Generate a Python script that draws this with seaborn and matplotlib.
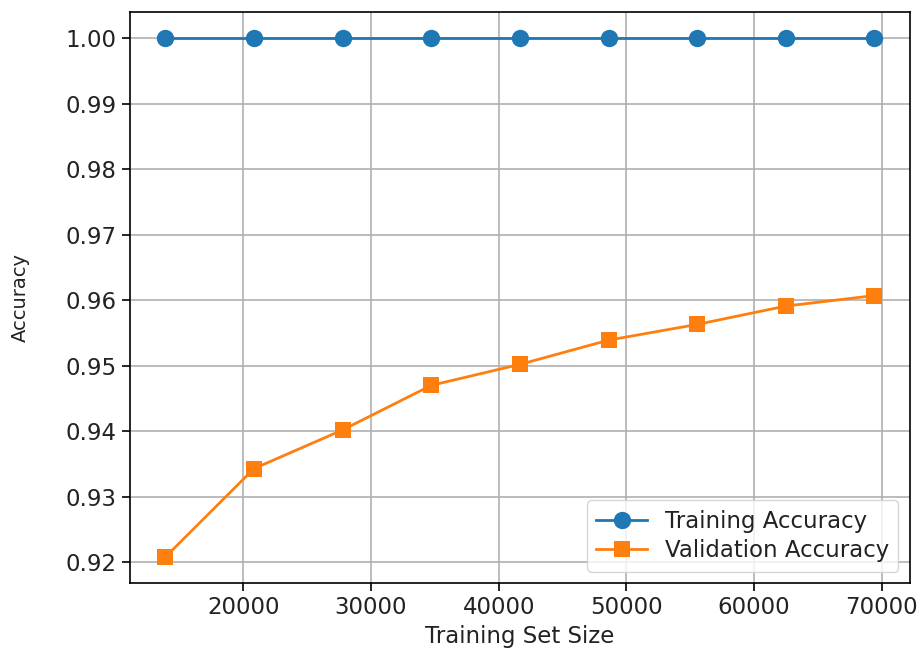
import matplotlib
matplotlib.use('Agg')
import matplotlib.pyplot as plt
import seaborn as sns
import pandas as pd

train_sizes = [13888, 20832, 27776, 34720, 41664, 48608, 55552, 62496, 69440]
train_acc = [1.0, 1.0, 1.0, 1.0, 1.0, 1.0, 1.0, 1.0, 1.0]
val_acc = [0.9208, 0.9343, 0.9402, 0.9470, 0.9502, 0.9539, 0.9563, 0.9591, 0.9607]


def generate_learning_curve():
    df = pd.DataFrame({'size': train_sizes, 'train': train_acc, 'val': val_acc})

    fig = plt.figure(figsize=(9.21, 6.5), dpi=100)
    ax = fig.add_axes([0.141, 0.103, 0.847, 0.8785])
    sns.lineplot(data=df, x='size', y='train', marker='o', markersize=12.5,
                 markeredgewidth=0, linewidth=2, color='#1f77b4',
                 label='Training Accuracy', ax=ax)
    sns.lineplot(data=df, x='size', y='val', marker='s', markersize=12,
                 markeredgewidth=0, linewidth=2, color='#ff7f0e',
                 label='Validation Accuracy', ax=ax)
    ax.margins(0.05)
    ax.set_yticks([0.92, 0.93, 0.94, 0.95, 0.96, 0.97, 0.98, 0.99, 1.00])
    ax.set_yticklabels(['0.92', '0.93', '0.94', '0.95', '0.96', '0.97', '0.98', '0.99', '1.00'])
    ax.tick_params(labelsize=16.5, length=6, width=1.2, labelcolor='#222222')
    ax.set_xlabel('Training Set Size', fontsize=16.5, color='#222222')
    ax.set_ylabel('Accuracy', fontsize=14, color='#222222')
    ax.yaxis.set_label_coords(-0.128, 0.5)
    ax.grid(True, color='#b0b0b0', linewidth=1.2)
    for s in ax.spines.values():
        s.set_linewidth(1.2)
    leg = ax.legend(loc='lower right', fontsize=16.5, markerscale=1.0,
                    handlelength=2.2, labelspacing=0.3)
    for t in leg.get_texts():
        t.set_color('#222222')
    fig.savefig('out.png', dpi=100)
    plt.close(fig)


generate_learning_curve()
